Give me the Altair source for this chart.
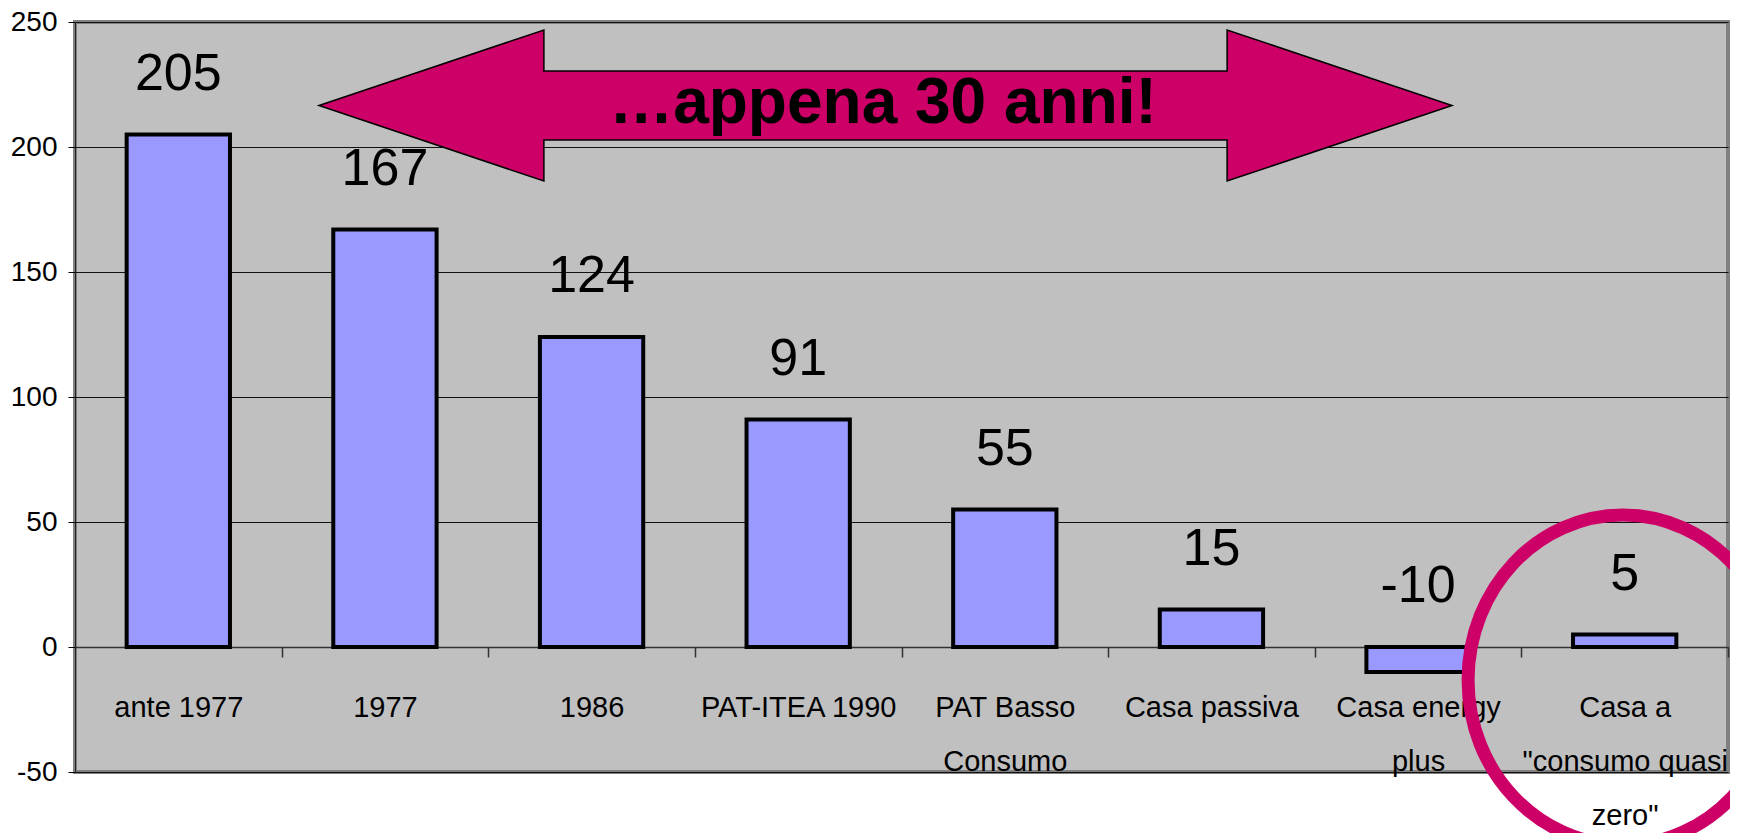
import altair as alt
import pandas as pd

# ---- data ----
categories = [
    "ante 1977",
    "1977",
    "1986",
    "PAT-ITEA 1990",
    "PAT Basso\nConsumo",
    "Casa passiva",
    "Casa energy\nplus",
    "Casa a\n\"consumo quasi\nzero\"",
]
values = [205, 167, 124, 91, 55, 15, -10, 5]
value_labels = ["205", "167", "124", "91", "55", "15", "-10", "5"]
y_ticks = [-50, 0, 50, 100, 150, 200, 250]
y_domain = [-50, 250]
annotation_text = "\u2026appena 30 anni!"

# ---- styling / annotation geometry ----
NARROW = "Liberation Sans Narrow, Arial Narrow, Liberation Sans, Arial, sans-serif"
BOLD = "Liberation Sans, Arial, sans-serif"
BAR_FILL = "#9999FF"
MAGENTA = "#CC0066"

PLOT_W, PLOT_H = 1653, 750
HALF_STEP = PLOT_W / len(categories) / 2

# double arrow drawn as a custom symbol, unit box [-1, 1]
ARROW_PATH = ("M -1 0 L -0.603 -0.1333 L -0.603 -0.0609 L 0.603 -0.0609 "
              "L 0.603 -0.1333 L 1 0 L 0.603 0.1333 L 0.603 0.0609 "
              "L -0.603 0.0609 L -0.603 0.1333 Z")
ARROW_SIZE = 1133 ** 2
ARROW_X, ARROW_Y = 810.5, 83.5
TEXT_X, TEXT_Y = 808, 101

# ellipse (ring) as custom symbol
rx, ry, k = 0.939, 1.0, 0.5523
ELLIPSE_PATH = (
    f"M {rx} 0 C {rx} {k*ry} {k*rx} {ry} 0 {ry} "
    f"C {-k*rx} {ry} {-rx} {k*ry} {-rx} 0 "
    f"C {-rx} {-k*ry} {-k*rx} {-ry} 0 {-ry} "
    f"C {k*rx} {-ry} {rx} {-k*ry} {rx} 0 Z"
)
RING_SIZE = (2 * 165) ** 2
RING_X, RING_Y = 1548, 658

df = pd.DataFrame({"cat": categories, "val": values, "lab": value_labels})
one = pd.DataFrame({"t": [annotation_text]})

x_axis = alt.Axis(
    title=None,
    labelExpr="split(datum.label, '\\n')",
    labelFont=NARROW,
    labelFontSize=29,
    labelColor="black",
    labelAngle=0,
    labelBaseline="alphabetic",
    labelLineHeight=54,
    labelPadding=59,
    labelLimit=0,
    labelOverlap=False,
    tickOffset=HALF_STEP,
    labelOffset=-HALF_STEP,
    tickSize=10,
    tickColor="#333333",
    tickWidth=1.5,
    domainColor="#333333",
    domainWidth=1.5,
    offset=-125,
    grid=False,
)

y_axis = alt.Axis(
    title=None,
    values=y_ticks,
    labelExpr="'' + datum.value",
    labelFont=NARROW,
    labelFontSize=28,
    labelColor="black",
    labelPadding=11,
    tickSize=7,
    tickColor="black",
    domainColor="#222222",
    domainWidth=1,
    grid=True,
    gridColor="#111111",
    gridWidth=1,
)

x_scale = alt.Scale(paddingInner=0.5, paddingOuter=0.25)
y_scale = alt.Scale(domain=y_domain, nice=False, zero=True)

bars = alt.Chart(df).mark_bar(
    fill=BAR_FILL, stroke="black", strokeWidth=4
).encode(
    x=alt.X("cat:N", sort=categories, scale=x_scale, axis=x_axis),
    y=alt.Y("val:Q", scale=y_scale, axis=y_axis),
)

labels = alt.Chart(df).transform_calculate(
    ly="max(datum.val, 0)"
).mark_text(
    font=NARROW, fontSize=52, color="black", align="center",
    baseline="alphabetic", dy=-45
).encode(
    x=alt.X("cat:N", sort=categories, scale=x_scale, axis=x_axis),
    y=alt.Y("ly:Q", scale=y_scale, axis=y_axis),
    text="lab:N",
)

arrow = alt.Chart(one).mark_point(
    shape=ARROW_PATH, size=ARROW_SIZE, filled=True, fill=MAGENTA,
    stroke="black", strokeWidth=1.5, opacity=1, fillOpacity=1, strokeOpacity=1
).encode(x=alt.value(ARROW_X), y=alt.value(ARROW_Y))

arrow_text = alt.Chart(one).mark_text(
    font=BOLD, fontSize=64, fontWeight="bold", color="black",
    align="center", baseline="alphabetic"
).encode(x=alt.value(TEXT_X), y=alt.value(TEXT_Y), text="t:N")

ring = alt.Chart(one).mark_point(
    shape=ELLIPSE_PATH, size=RING_SIZE, filled=False, fill="transparent",
    stroke=MAGENTA, strokeWidth=13, opacity=1, strokeOpacity=1
).encode(x=alt.value(RING_X), y=alt.value(RING_Y))

chart = alt.layer(bars, labels, arrow, arrow_text, ring).properties(
    width=PLOT_W,
    height=PLOT_H,
    autosize=alt.AutoSizeParams(type="none"),
    padding={"left": 67, "top": 14, "right": 2, "bottom": 61},
    background="white",
).configure_view(
    fill="#C0C0C0", stroke="#808080", strokeWidth=4
)

chart.save("out.html", embed_options={"renderer": "svg", "actions": False})
